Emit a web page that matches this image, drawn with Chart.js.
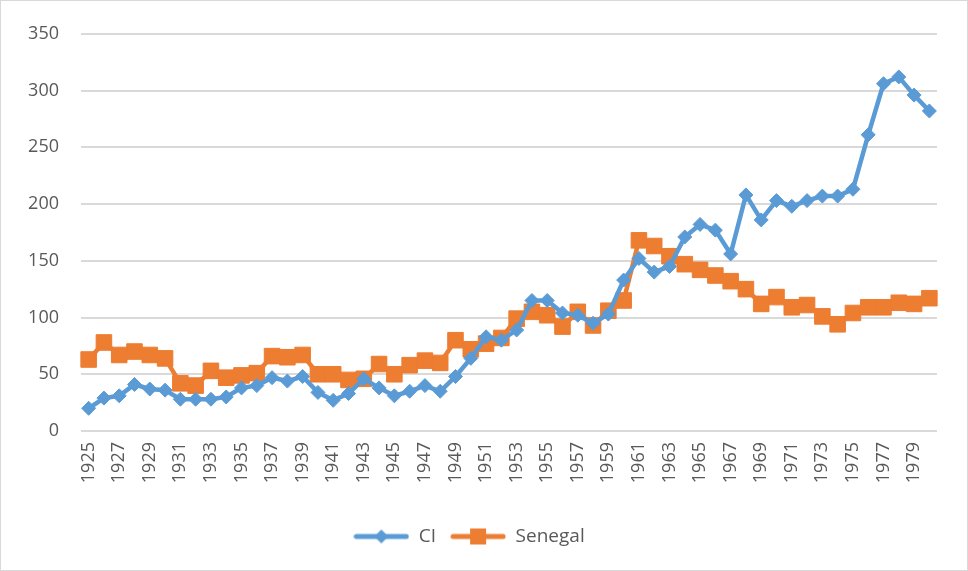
<!DOCTYPE html>
<html>
<head>
<meta charset="utf-8">
<script src="https://cdn.jsdelivr.net/npm/chart.js@4/dist/chart.umd.min.js"></script>
<style>
  html, body { margin: 0; padding: 0; background: #fff; }
  #wrap { width: 966px; height: 569px; border: 1px solid #d9d9d9; position: relative; }
</style>
</head>
<body>
<div id="wrap"><canvas id="chart"></canvas></div>
<script>
// years and values
const years = [];
for (let y = 1925; y <= 1980; y++) years.push(String(y));

const ciValues = [
  20, 29, 31, 41, 37, 36, 28, 28, 28, 30,
  38, 40, 47, 44, 48, 34, 27, 33, 46, 38,
  31, 35, 40, 35, 48, 64, 83, 80, 89, 115,
  115, 104, 102, 95, 103, 133, 152, 140, 145, 171,
  182, 177, 156, 208, 186, 203, 198, 203, 207, 207,
  213, 261, 306, 312, 296, 282
];

const senegalValues = [
  63, 78, 67, 70, 67, 64, 42, 40, 53, 47,
  49, 51, 66, 65, 67, 50, 50, 45, 46, 59,
  50, 58, 62, 60, 80, 72, 77, 82, 99, 105,
  102, 92, 105, 93, 106, 115, 168, 163, 154, 147,
  142, 137, 132, 125, 112, 118, 109, 111, 101, 94,
  104, 109, 109, 113, 112, 117
];

const yTicks = [0, 50, 100, 150, 200, 250, 300, 350];

const BLUE = '#5B9BD5';
const ORANGE = '#ED7D31';
const TEXT = '#595959';

// legend symbol: a short line with the series marker in the middle
function legendSymbol(color, square) {
  const c = document.createElement('canvas');
  c.width = 56; c.height = 18;
  const g = c.getContext('2d');
  g.strokeStyle = color;
  g.lineWidth = 5;
  g.lineCap = 'round';
  g.beginPath();
  g.moveTo(3, 9); g.lineTo(53, 9);
  g.stroke();
  g.fillStyle = color;
  if (square) {
    g.fillRect(20, 1, 16, 16);
  } else {
    g.beginPath();
    g.moveTo(28, 2); g.lineTo(35, 9); g.lineTo(28, 16); g.lineTo(21, 9);
    g.closePath();
    g.fill();
  }
  return c;
}

const ctx = document.getElementById('chart').getContext('2d');
const chart = new Chart(ctx, {
  type: 'line',
  data: {
    labels: years,
    datasets: [{
      label: 'CI',
      data: ciValues,
      borderColor: BLUE,
      backgroundColor: BLUE,
      borderWidth: 4.5,
      pointStyle: 'rectRot',
      pointRadius: 7,
      pointBorderWidth: 1,
      pointHoverRadius: 7,
      fill: false,
      tension: 0
    }, {
      label: 'Senegal',
      data: senegalValues,
      borderColor: ORANGE,
      backgroundColor: ORANGE,
      borderWidth: 4.5,
      pointStyle: 'rect',
      pointRadius: 11,
      pointBorderWidth: 1,
      pointHoverRadius: 11,
      fill: false,
      tension: 0
    }]
  },
  options: {
    responsive: true,
    maintainAspectRatio: false,
    animation: false,
    layout: { padding: { top: 28, right: 30, left: 0, bottom: 14 } },
    plugins: {
      legend: {
        position: 'bottom',
        labels: {
          usePointStyle: true,
          pointStyleWidth: 56,
          color: TEXT,
          font: { family: 'Open Sans', size: 19 },
          padding: 14,
          generateLabels: function (chart) {
            return chart.data.datasets.map(function (ds, i) {
              return {
                text: ds.label,
                fontColor: TEXT,
                pointStyle: legendSymbol(ds.borderColor, i === 1),
                fillStyle: ds.borderColor,
                strokeStyle: ds.borderColor,
                lineWidth: 0,
                datasetIndex: i
              };
            });
          }
        }
      },
      tooltip: { enabled: false }
    },
    scales: {
      x: {
        offset: true,
        grid: { display: false },
        border: { display: false },
        ticks: {
          color: TEXT,
          font: { family: 'Open Sans', size: 18 },
          minRotation: 90,
          maxRotation: 90,
          autoSkip: false,
          padding: 3,
          callback: function (val, idx) {
            return idx % 2 === 0 ? this.getLabelForValue(val) : '';
          }
        },
        afterFit: function (scale) { scale.height = 82; }
      },
      y: {
        min: 0,
        max: 350,
        afterBuildTicks: function (scale) {
          scale.ticks = yTicks.map(v => ({ value: v }));
        },
        grid: { color: '#d9d9d9', lineWidth: 2, drawTicks: false },
        border: { display: false },
        ticks: {
          color: TEXT,
          font: { family: 'Open Sans', size: 18 },
          padding: 22
        },
        afterFit: function (scale) { scale.width = 80; }
      }
    }
  }
});
</script>
</body>
</html>
